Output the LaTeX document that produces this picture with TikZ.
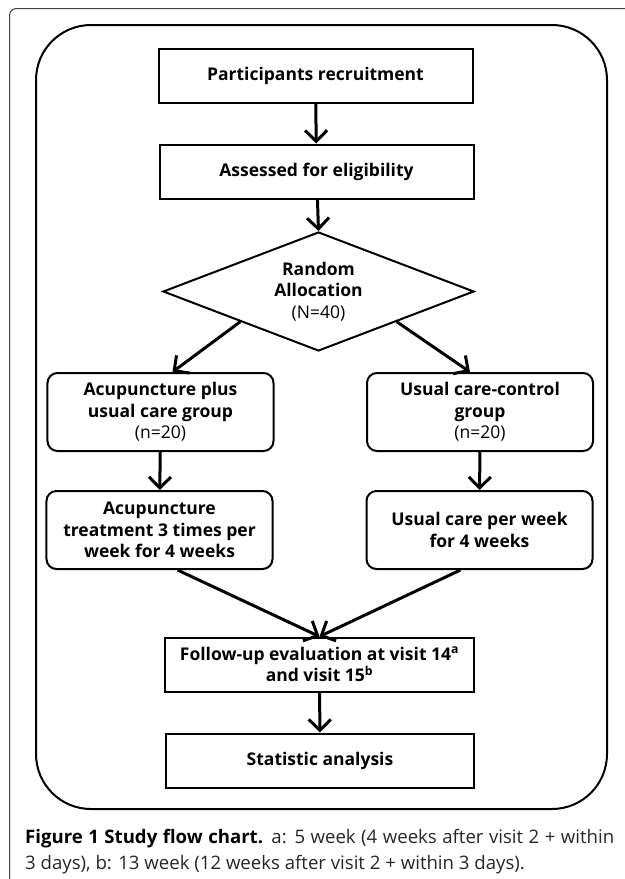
\documentclass[tikz,border=0pt]{standalone}
\usepackage{fontspec}
\setmainfont{Open Sans}
\usetikzlibrary{arrows.meta, shapes.geometric, calc}

\begin{document}
\begin{tikzpicture}[x=1bp, y=-1bp,
    box/.style={draw, line width=2bp, inner sep=0pt, align=center,
        font={\bfseries\fontsize{17.5bp}{21.7bp}\selectfont}},
    sqbox/.style={box, minimum width=314bp, minimum height=54bp},
    grpbox/.style={box, rounded corners=10bp, minimum width=226bp, minimum height=78bp},
    flow/.style={line width=3bp, -{Straight Barb[length=11bp, width=22bp]}},
    captxt/.style={anchor=base west, inner sep=0pt, text=black!85, font={\fontsize{18.6bp}{26bp}\selectfont}}]

    \useasboundingbox (0,0) rectangle (625,879);

    \draw[line width=1bp, black!75, rounded corners=7bp] (9.5,879) -- (9.5,8.5) -- (625,8.5);
    \draw[line width=2bp, rounded corners=55bp] (36,25) rectangle (607,809);

    \node[sqbox] (rec) at (315.5, 76) {Participants recruitment};
    \node[sqbox] (elig) at (316.5, 171.5) {Assessed for eligibility};
    \node[box, diamond, aspect=2.6, minimum width=311bp, minimum height=119bp] (dia) at (318.5, 291.5)
        {Random\\Allocation\\\mdseries(N=40)};

    \node[grpbox] (grp1) at (160.5, 412) {Acupuncture plus\\usual care group\\\mdseries(n=20)};
    \node[grpbox] (grp2) at (480, 412) {Usual care-control\\group\\\mdseries(n=20)};
    \node[grpbox] (trt1) at (159.5, 530) {Acupuncture\\treatment 3 times per\\week for 4 weeks};
    \node[grpbox] (trt2) at (479.5, 530) {Usual care per week\\for 4 weeks};

    \node[sqbox, minimum width=309bp] (fol) at (319.5, 664.5)
        {Follow-up evaluation at visit 14\textsuperscript{a}\\and visit 15\textsuperscript{b}};
    \node[sqbox, minimum width=308bp] (sta) at (320, 760.5) {Statistic analysis};

    \draw[flow] (rec) -- (elig);
    \draw[flow] (elig) -- (dia.north);
    \draw[flow] (dia.south west) -- ([xshift=12bp]grp1.north);
    \draw[flow] (dia.south east) -- ([xshift=-10bp]grp2.north);
    \draw[flow] (grp1) -- (trt1);
    \draw[flow] (grp2) -- (trt2);
    \draw[flow] ([xshift=18bp]trt1.south) -- (fol.north);
    \draw[flow] ([xshift=-19bp]trt2.south) -- (fol.north);
    \draw[flow] (fol) -- (sta);

    \node[captxt] (cap1) at (25, 843)
        {\makebox[589bp][s]{\textcolor{black}{\textbf{Figure 1 Study flow chart.}} a: 5 week (4 weeks after visit 2 + within}};
    \node[captxt] (cap2) at (25, 869) {3 days), b: 13 week (12 weeks after visit 2 + within 3 days).};

\end{tikzpicture}
\end{document}
